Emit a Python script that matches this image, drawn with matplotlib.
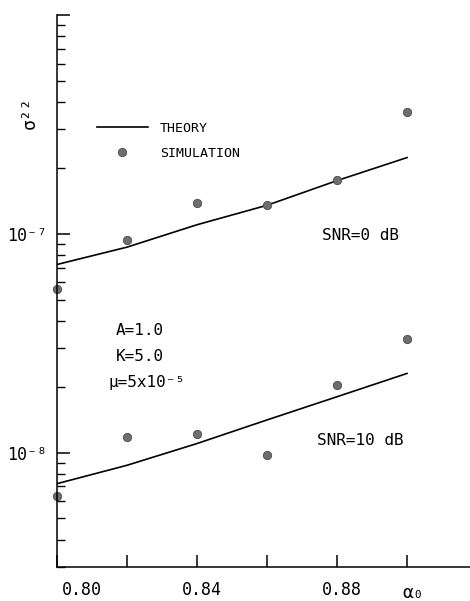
import matplotlib
matplotlib.use("Agg")
import matplotlib.pyplot as plt
from matplotlib.lines import Line2D
from matplotlib.ticker import LogLocator, FuncFormatter, NullFormatter
import matplotlib.transforms as mtransforms

plt.rcParams['font.family'] = ['DejaVu Sans Mono', 'DejaVu Sans']

# step-size values alpha_0
alpha = [0.80, 0.82, 0.84, 0.86, 0.88, 0.90]

# SNR = 0 dB
theory_0 = [7.24e-8, 8.69e-8, 1.10e-7, 1.35e-7, 1.75e-7, 2.23e-7]
sim_0 = [5.62e-8, 9.35e-8, 1.39e-7, 1.35e-7, 1.77e-7, 3.59e-7]

# SNR = 10 dB
theory_10 = [7.21e-9, 8.75e-9, 1.10e-8, 1.41e-8, 1.80e-8, 2.30e-8]
sim_10 = [6.34e-9, 1.18e-8, 1.22e-8, 9.8e-9, 2.04e-8, 3.29e-8]

xtick_vals = [0.80, 0.82, 0.84, 0.86, 0.88, 0.90]
xtick_labels = ['0.80', '', '0.84', '', '0.88', '']

fig = plt.figure(figsize=(4.70, 6.01), dpi=100)
ax = fig.add_axes([57 / 470, 34 / 601, 413 / 470, 552 / 601])

pt_color = '#6e6e6e'
ax.plot(alpha, theory_0, color='black', lw=1.2)
ax.plot(alpha, theory_10, color='black', lw=1.2)
ax.plot(alpha, sim_0, 'o', ms=6, color=pt_color, mec='#4a4a4a', mew=0.6, clip_on=False)
ax.plot(alpha, sim_10, 'o', ms=6, color=pt_color, mec='#4a4a4a', mew=0.6, clip_on=False)

ax.set_yscale('log')
ax.set_xlim(0.80, 0.918)
ax.set_ylim(3e-9, 1e-6)

for s in ['top', 'right']:
    ax.spines[s].set_visible(False)
for s in ['left', 'bottom']:
    ax.spines[s].set_linewidth(1.1)


def ylab(v, pos):
    if abs(v - 1e-7) < 1e-12:
        return '10⁻⁷'
    if abs(v - 1e-8) < 1e-13:
        return '10⁻⁸'
    return ''


ax.yaxis.set_major_locator(LogLocator(base=10))
ax.yaxis.set_major_formatter(FuncFormatter(ylab))
ax.yaxis.set_minor_locator(LogLocator(base=10, subs=range(2, 10)))
ax.yaxis.set_minor_formatter(NullFormatter())
ax.tick_params(axis='y', which='major', direction='in', length=9, width=1.1, pad=7, labelsize=12)
ax.tick_params(axis='y', which='minor', direction='in', length=6, width=1.0)

ax.set_xticks(xtick_vals)
ax.set_xticklabels(xtick_labels)
ax.tick_params(axis='x', which='major', direction='in', length=9, width=1.1, pad=10, labelsize=12)

# labels sit a little right of their ticks
for i, lab in enumerate(ax.get_xticklabels()):
    lab.set_transform(lab.get_transform() + mtransforms.ScaledTranslation(5 / 100, 0, fig.dpi_scale_trans))
    if i == 0:
        lab.set_horizontalalignment('left')

txt = dict(transform=ax.transAxes, fontsize=11.5, va='center', ha='left')
ax.text(0.641, 0.600, 'SNR=0 dB', **txt)
ax.text(0.629, 0.230, 'SNR=10 dB', **txt)
ax.text(0.143, 0.428, 'A=1.0', **txt)
ax.text(0.143, 0.382, 'K=5.0', **txt)
ax.text(0.124, 0.334, 'μ=5x10⁻⁵', **txt)

fig.text(0.064, 0.812, 'σ²²', rotation=90, fontsize=13, ha='center', va='center')
fig.text(0.879, 0.0133, 'α₀', fontsize=13, ha='center', va='center')

handles = [Line2D([], [], color='black', lw=1.2),
           Line2D([], [], ls='none', marker='o', ms=6, color=pt_color, mec='#4a4a4a', mew=0.6)]
ax.legend(handles, ['THEORY', 'SIMULATION'], loc='upper left', bbox_to_anchor=(0.096, 0.806),
          frameon=False, fontsize=9.5, handlelength=3.9, handletextpad=0.9,
          labelspacing=0.9, borderpad=0, borderaxespad=0)

fig.savefig('out.png', dpi=100)
